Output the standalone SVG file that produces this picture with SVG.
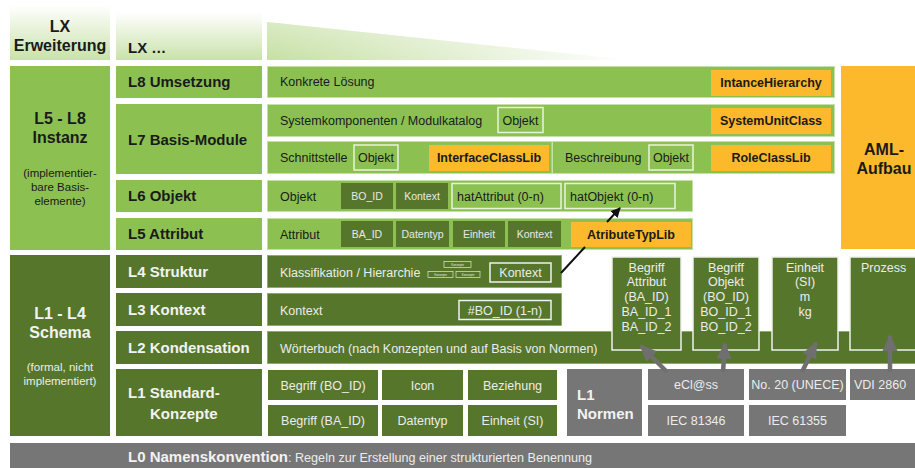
<svg xmlns="http://www.w3.org/2000/svg" width="915" height="468" viewBox="0 0 915 468">
<defs>
<linearGradient id="fadeV" x1="0" y1="0" x2="0" y2="1"><stop offset="0" stop-color="#ffffff"/><stop offset="1" stop-color="#c9e2aa"/></linearGradient>
<linearGradient id="fadeH" x1="0" y1="0" x2="1" y2="0"><stop offset="0" stop-color="#c6e0a4"/><stop offset="0.5" stop-color="#e2efd1"/><stop offset="1" stop-color="#ffffff"/></linearGradient>
<linearGradient id="fadeTop" x1="0" y1="0" x2="0" y2="1"><stop offset="0" stop-color="#ffffff" stop-opacity="1"/><stop offset="1" stop-color="#ffffff" stop-opacity="0"/></linearGradient>
<marker id="ag" markerUnits="userSpaceOnUse" markerWidth="18" markerHeight="18" viewBox="0 0 18 18" refX="15" refY="9" orient="auto"><path d="M0,1.5 L17,9 L0,16.5 z" fill="#6f6f6f"/></marker>
<marker id="ab" markerUnits="userSpaceOnUse" markerWidth="10" markerHeight="10" viewBox="0 0 10 10" refX="9" refY="5" orient="auto"><path d="M0,0 L10,5 L0,10 z" fill="#111111"/></marker>
<style>
.lg{fill:#8cc152}
.row{fill:#8cc152;stroke:#c6e1a8;stroke-width:1}
.dg{fill:#56762c}
.drow{fill:#56762c;stroke:#8aa36a;stroke-width:0.8}
.gr{fill:#767676}
.or{fill:#fbb92b}
.ol{fill:none;stroke:#e8f3dc;stroke-width:1.5}
.olw{fill:none;stroke:#f0f0f0;stroke-width:1.5}
.bb{fill:#56762c;stroke:#eef2ea;stroke-width:1.5}
text{font-family:"Liberation Sans",Arial,sans-serif}
.lb{font-size:15px;font-weight:bold;fill:#1a1a1a}
.lbw{font-size:15px;font-weight:bold;fill:#f2f2f2}
.big{font-size:16px;font-weight:bold;fill:#1a1a1a;text-anchor:middle}
.bigw{font-size:16px;font-weight:bold;fill:#f2f2f2;text-anchor:middle}
.sm{font-size:11.5px;fill:#1a1a1a;text-anchor:middle}
.smw{font-size:11.5px;fill:#ececec;text-anchor:middle}
.t{font-size:12.5px;fill:#1a1a1a}
.tw{font-size:12.5px;fill:#ececec}
.tc{font-size:12.5px;fill:#1a1a1a;text-anchor:middle}
.twc{font-size:12.5px;fill:#ececec;text-anchor:middle}
.ob{font-size:12.5px;font-weight:bold;fill:#1a1a1a;text-anchor:middle}
.s{font-size:10.5px;fill:#e8e8e8;text-anchor:middle}
.k{font-size:3px;fill:#e8e8e8;text-anchor:middle}
.kb{fill:none;stroke:#dfe8d5;stroke-width:0.7}
</style>
</defs>

<g id="lx-erweiterung">
<rect x="10" y="5" width="100" height="55" fill="url(#fadeV)"/>
<text class="big" x="60" y="32">LX</text>
<text class="big" x="60" y="51">Erweiterung</text>
</g>
<g id="lx-dots">
<rect x="116" y="12" width="146" height="48" fill="url(#fadeV)"/>
<text class="lb" x="128" y="53">LX …</text>
</g>
<g id="lx-wedge">
<polygon points="267,22 267,60 630,60" fill="url(#fadeH)"/>
<polygon points="267,22 267,60 630,60" fill="url(#fadeTop)" opacity="0.35"/>
</g>

<g id="instanz">
<rect class="lg" x="10" y="66" width="100" height="184"/>
<text class="big" x="60" y="124">L5 - L8</text>
<text class="big" x="60" y="143">Instanz</text>
<text class="sm" x="60" y="177">(implementier-</text>
<text class="sm" x="60" y="191">bare Basis-</text>
<text class="sm" x="60" y="205">elemente)</text>
</g>

<g id="l8-label"><rect class="lg" x="116" y="66" width="146" height="32"/><text class="lb" x="128" y="87">L8 Umsetzung</text></g>
<g id="l7-label"><rect class="lg" x="116" y="104" width="146" height="70"/><text class="lb" x="128" y="145">L7 Basis-Module</text></g>
<g id="l6-label"><rect class="lg" x="116" y="180" width="146" height="32"/><text class="lb" x="128" y="201">L6 Objekt</text></g>
<g id="l5-label"><rect class="lg" x="116" y="218" width="146" height="32"/><text class="lb" x="128" y="239">L5 Attribut</text></g>

<g id="l8-row">
<rect class="row" x="267.5" y="66.5" width="567" height="31"/>
<text class="t" x="280" y="86">Konkrete Lösung</text>
<rect class="or" x="711" y="70" width="120" height="26"/>
<text class="ob" x="771" y="87">IntanceHierarchy</text>
</g>
<g id="l7-row1">
<rect class="row" x="267.5" y="104.5" width="567" height="32"/>
<text class="t" x="280" y="125">Systemkomponenten / Modulkatalog</text>
<rect class="ol" x="498" y="107.5" width="45" height="25"/>
<text class="tc" x="520.5" y="125">Objekt</text>
<rect class="or" x="711" y="108" width="120" height="26"/>
<text class="ob" x="771" y="125">SystemUnitClass</text>
</g>
<g id="l7-row2a">
<rect class="row" x="267.5" y="141.5" width="284.5" height="32"/>
<text class="t" x="280" y="162">Schnittstelle</text>
<rect class="ol" x="354" y="145" width="44" height="25"/>
<text class="tc" x="376" y="162">Objekt</text>
<rect class="or" x="429" y="145" width="120" height="26"/>
<text class="ob" x="489" y="162">InterfaceClassLib</text>
</g>
<g id="l7-row2b">
<rect class="row" x="552.5" y="141.5" width="282" height="32"/>
<text class="t" x="565" y="162">Beschreibung</text>
<rect class="ol" x="649" y="145" width="44" height="25"/>
<text class="tc" x="671" y="162">Objekt</text>
<rect class="or" x="711" y="145" width="120" height="26"/>
<text class="ob" x="771" y="162">RoleClassLib</text>
</g>
<g id="aml">
<rect class="or" x="841" y="66" width="74" height="183"/>
<text class="big" x="884" y="155">AML-</text>
<text class="big" x="884" y="174">Aufbau</text>
</g>

<g id="l6-row">
<rect class="row" x="267.5" y="180.5" width="425" height="31"/>
<text class="t" x="280" y="201">Objekt</text>
<rect class="dg" x="341" y="183" width="52" height="26"/>
<text class="s" x="367" y="200">BO_ID</text>
<rect class="dg" x="396" y="183" width="52" height="26"/>
<text class="s" x="422" y="200">Kontext</text>
<rect class="ol" x="452" y="183.5" width="109" height="25"/>
<text class="t" x="457" y="201">hatAttribut (0-n)</text>
<rect class="ol" x="565" y="183.5" width="110" height="25"/>
<text class="t" x="570" y="201">hatObjekt (0-n)</text>
</g>
<g id="l5-row">
<rect class="row" x="267.5" y="218.5" width="425" height="31"/>
<text class="t" x="280" y="239">Attribut</text>
<rect class="dg" x="341" y="221" width="52" height="26"/>
<text class="s" x="367" y="238">BA_ID</text>
<rect class="dg" x="396" y="221" width="53" height="26"/>
<text class="s" x="422.5" y="238">Datentyp</text>
<rect class="dg" x="453" y="221" width="52" height="26"/>
<text class="s" x="479" y="238">Einheit</text>
<rect class="dg" x="508" y="221" width="53" height="26"/>
<text class="s" x="534.5" y="238">Kontext</text>
<rect class="or" x="571" y="222" width="120" height="25"/>
<text class="ob" x="631" y="239">AtributeTypLib</text>
</g>

<g id="schema">
<rect class="dg" x="10" y="255" width="100" height="181"/>
<text class="bigw" x="60" y="319">L1 - L4</text>
<text class="bigw" x="60" y="338">Schema</text>
<text class="smw" x="60" y="371">(formal, nicht</text>
<text class="smw" x="60" y="385">implementiert)</text>
</g>
<g id="l4-label"><rect class="dg" x="116" y="255" width="146" height="33"/><text class="lbw" x="128" y="277">L4 Struktur</text></g>
<g id="l3-label"><rect class="dg" x="116" y="293" width="146" height="33"/><text class="lbw" x="128" y="315">L3 Kontext</text></g>
<g id="l2-label"><rect class="dg" x="116" y="331" width="146" height="33"/><text class="lbw" x="128" y="353">L2 Kondensation</text></g>
<g id="l1-label"><rect class="dg" x="116" y="369" width="146" height="67"/><text class="lbw" x="128" y="398">L1 Standard-</text><text class="lbw" x="150" y="419">Konzepte</text></g>

<g id="l4-row">
<rect class="drow" x="267.5" y="255.5" width="294" height="32"/>
<text class="tw" x="280" y="277">Klassifikation / Hierarchie</text>
<rect class="kb" x="444" y="261.5" width="27" height="6"/><text class="k" x="457.5" y="265.5">Konzepte</text>
<rect class="kb" x="428" y="271.5" width="25" height="6"/><text class="k" x="440.5" y="275.5">Konzepte</text>
<rect class="kb" x="456" y="271.5" width="24" height="6"/><text class="k" x="468" y="275.5">Konzepte</text>
<rect class="olw" x="490" y="263" width="61" height="19"/>
<text class="twc" x="520.5" y="277">Kontext</text>
</g>
<g id="l3-row">
<rect class="drow" x="267.5" y="293.5" width="294" height="32"/>
<text class="tw" x="280" y="315">Kontext</text>
<rect class="olw" x="459" y="300.5" width="92" height="19"/>
<text class="twc" x="505" y="315">#BO_ID (1-n)</text>
</g>
<g id="l2-row">
<rect class="drow" x="267.5" y="331.5" width="650" height="32"/>
<text class="tw" x="280" y="353">Wörterbuch (nach Konzepten und auf Basis von Normen)</text>
</g>

<g id="begriff-attribut">
<rect class="bb" x="612" y="257" width="69" height="93"/>
<text class="twc" x="646.5" y="272">Begriff</text>
<text class="twc" x="646.5" y="286">Attribut</text>
<text class="twc" x="646.5" y="301">(BA_ID)</text>
<text class="twc" x="646.5" y="316">BA_ID_1</text>
<text class="twc" x="646.5" y="331">BA_ID_2</text>
</g>
<g id="begriff-objekt">
<rect class="bb" x="693" y="257" width="66" height="93"/>
<text class="twc" x="726" y="272">Begriff</text>
<text class="twc" x="726" y="286">Objekt</text>
<text class="twc" x="726" y="301">(BO_ID)</text>
<text class="twc" x="726" y="316">BO_ID_1</text>
<text class="twc" x="726" y="331">BO_ID_2</text>
</g>
<g id="einheit">
<rect class="bb" x="772" y="257" width="66" height="93"/>
<text class="twc" x="805" y="272">Einheit</text>
<text class="twc" x="805" y="286">(SI)</text>
<text class="twc" x="805" y="301">m</text>
<text class="twc" x="805" y="316">kg</text>
</g>
<g id="prozess">
<rect class="bb" x="850" y="257" width="70" height="93"/>
<text class="tw" x="861" y="272">Prozess</text>
</g>

<g id="l1-row">
<rect class="dg" x="268" y="370" width="110" height="30"/><text class="twc" x="323" y="390">Begriff (BO_ID)</text>
<rect class="dg" x="382" y="370" width="81" height="30"/><text class="twc" x="422.5" y="390">Icon</text>
<rect class="dg" x="468" y="370" width="89" height="30"/><text class="twc" x="512.5" y="390">Beziehung</text>
<rect class="dg" x="268" y="405" width="110" height="31"/><text class="twc" x="323" y="425">Begriff (BA_ID)</text>
<rect class="dg" x="382" y="405" width="81" height="31"/><text class="twc" x="422.5" y="425">Datentyp</text>
<rect class="dg" x="468" y="405" width="89" height="31"/><text class="twc" x="512.5" y="425">Einheit (SI)</text>
</g>

<g id="normen">
<rect class="gr" x="567" y="369" width="75" height="67"/>
<text class="lbw" x="577" y="400">L1</text>
<text class="lbw" x="577" y="419">Normen</text>
</g>
<g id="eclass"><rect class="gr" x="648" y="369" width="96" height="31"/><text class="twc" x="696" y="389">eCl@ss</text></g>
<g id="unece"><rect class="gr" x="749" y="369" width="97" height="31"/><text class="twc" x="797.5" y="389">No. 20 (UNECE)</text></g>
<g id="vdi"><rect class="gr" x="850" y="369" width="70" height="31"/><text class="tw" x="854" y="389">VDI 2860</text></g>
<g id="iec81346"><rect class="gr" x="648" y="405" width="96" height="31"/><text class="twc" x="696" y="425">IEC 81346</text></g>
<g id="iec61355"><rect class="gr" x="749" y="405" width="97" height="31"/><text class="twc" x="797.5" y="425">IEC 61355</text></g>

<g id="l0">
<rect class="gr" x="10" y="443" width="910" height="30"/>
<text x="128" y="462" style="font-size:15px;font-weight:bold;fill:#f2f2f2" textLength="160" lengthAdjust="spacingAndGlyphs">L0 Namenskonvention</text>
<text x="288" y="462" style="font-size:12px;fill:#ececec" textLength="304" lengthAdjust="spacingAndGlyphs">: Regeln zur Erstellung einer strukturierten Benennung</text>
</g>

<g id="connectors">
<path d="M561,273 L585,247 M607,222 L620,208" fill="none" stroke="#111111" stroke-width="2" marker-end="url(#ab)"/>
<line x1="667" y1="372" x2="641" y2="346" stroke="#6f6f6f" stroke-width="4.5" marker-end="url(#ag)"/>
<line x1="723" y1="372" x2="725" y2="344" stroke="#6f6f6f" stroke-width="4.5" marker-end="url(#ag)"/>
<line x1="802" y1="372" x2="816" y2="343" stroke="#6f6f6f" stroke-width="4.5" marker-end="url(#ag)"/>
<line x1="890" y1="372" x2="890" y2="336" stroke="#6f6f6f" stroke-width="4.5" marker-end="url(#ag)"/>
</g>
</svg>
